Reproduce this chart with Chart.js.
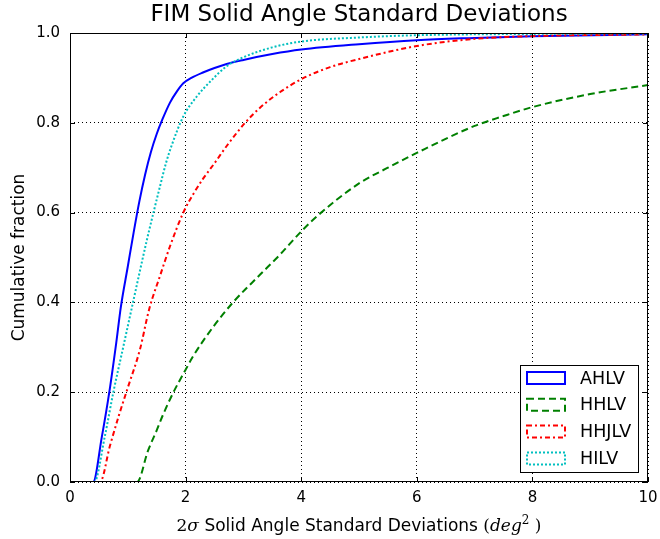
<!DOCTYPE html>
<html>
<head>
<meta charset="utf-8">
<script src="https://cdn.jsdelivr.net/npm/chart.js@4/dist/chart.umd.min.js"></script>
<style>
  body { margin: 0; background: #fff; }
  canvas { display: block; }
</style>
</head>
<body>
<canvas id="cdf" width="660" height="539"></canvas>
<script>
    // cumulative curves, x = 2 sigma solid angle std dev (deg^2)
    const ahlvX = [0, 0.40, 0.55, 0.68, 0.80, 0.88, 1.0, 1.1, 1.2, 1.3, 1.4, 1.5, 1.6, 1.73, 1.85, 1.96, 2.1, 2.3, 2.5, 2.71, 3.0, 3.5, 4.0, 5.0, 6.0, 7.0, 8.0, 10.0];
    const ahlvY = [0, 0, 0.10, 0.20, 0.31, 0.39, 0.48, 0.555, 0.625, 0.685, 0.735, 0.775, 0.808, 0.845, 0.87, 0.888, 0.90, 0.912, 0.922, 0.931, 0.940, 0.953, 0.963, 0.975, 0.984, 0.989, 0.993, 0.997];

    const hhlvX = [0, 1.16, 1.35, 1.50, 1.61, 1.79, 2.0, 2.13, 2.48, 2.82, 3.29, 3.63, 4.0, 4.3, 5.0, 5.5, 6.0, 7.0, 7.5, 8.0, 9.0, 10.0];
    const hhlvY = [0, 0, 0.07, 0.115, 0.15, 0.20, 0.25, 0.28, 0.346, 0.40, 0.462, 0.506, 0.558, 0.595, 0.665, 0.70, 0.733, 0.793, 0.815, 0.835, 0.864, 0.884];

    const hhjlvX = [0, 0.52, 0.69, 0.85, 1.0, 1.21, 1.37, 1.56, 1.73, 1.96, 2.15, 2.3, 2.5, 2.72, 3.03, 3.3, 3.63, 4.0, 4.5, 5.0, 6.0, 7.0, 8.0, 10.0];
    const hhjlvY = [0, 0, 0.08, 0.15, 0.21, 0.295, 0.385, 0.46, 0.525, 0.60, 0.645, 0.675, 0.71, 0.75, 0.80, 0.835, 0.868, 0.897, 0.924, 0.942, 0.971, 0.987, 0.993, 0.997];

    const hilvX = [0, 0.42, 0.60, 0.75, 0.92, 1.09, 1.33, 1.56, 1.66, 1.76, 1.96, 2.19, 2.45, 2.71, 3.0, 3.5, 4.0, 5.0, 6.0, 8.0, 10.0];
    const hilvY = [0, 0, 0.10, 0.20, 0.30, 0.40, 0.539, 0.66, 0.71, 0.75, 0.814, 0.858, 0.895, 0.926, 0.946, 0.968, 0.981, 0.990, 0.995, 0.998, 0.999];

    const seriesNames = ['AHLV', 'HHLV', 'HHJLV', 'HILV'];
    const xTicks = [0, 2, 4, 6, 8, 10];
    const yTicks = [0, 0.2, 0.4, 0.6, 0.8, 1.0];

    const pts = (xs, ys) => xs.map((x, i) => ({ x: x, y: ys[i] }));

    // matplotlib-ish styles
    const styles = [
        { color: '#0000ff', dash: [] },
        { color: '#008000', dash: [7, 4] },
        { color: '#ff0000', dash: [5, 3, 2, 3] },
        { color: '#00bfbf', dash: [2, 2] }
    ];

    const allData = [pts(ahlvX, ahlvY), pts(hhlvX, hhlvY), pts(hhjlvX, hhjlvY), pts(hilvX, hilvY)];

    const datasets = allData.map((d, i) => ({
        label: seriesNames[i],
        data: d,
        borderColor: styles[i].color,
        backgroundColor: '#ffffff',
        borderDash: styles[i].dash,
        borderWidth: 2,
        pointRadius: 0,
        cubicInterpolationMode: 'monotone',
        fill: false,
        order: 3 - i
    }));

    // frame, inward ticks, titles and legend
    const decorations = {
        id: 'decorations',
        afterDraw(chart) {
            const ctx = chart.ctx;
            const a = chart.chartArea;
            const xs = chart.scales.x, ys = chart.scales.y;
            ctx.save();
            ctx.strokeStyle = '#000';
            ctx.lineWidth = 1;
            ctx.setLineDash([]);
            ctx.strokeRect(a.left + 0.5, a.top + 0.5, a.right - a.left - 1, a.bottom - a.top - 1);

            ctx.beginPath();
            xTicks.forEach(t => {
                const px = Math.round(xs.getPixelForValue(t)) + 0.5;
                ctx.moveTo(px, a.bottom); ctx.lineTo(px, a.bottom - 5);
                ctx.moveTo(px, a.top); ctx.lineTo(px, a.top + 5);
            });
            yTicks.forEach(t => {
                const py = Math.round(ys.getPixelForValue(t)) + 0.5;
                ctx.moveTo(a.left, py); ctx.lineTo(a.left + 5, py);
                ctx.moveTo(a.right, py); ctx.lineTo(a.right - 5, py);
            });
            ctx.stroke();

            const cx = (a.left + a.right) / 2;
            ctx.fillStyle = '#000';
            ctx.textAlign = 'center';
            ctx.textBaseline = 'alphabetic';
            ctx.font = '23px "DejaVu Sans"';
            ctx.fillText('FIM Solid Angle Standard Deviations', cx, 21);

            // y axis title
            ctx.save();
            ctx.translate(24, (a.top + a.bottom) / 2);
            ctx.rotate(-Math.PI / 2);
            ctx.font = '17px "DejaVu Sans"';
            ctx.fillText('Cumulative fraction', 0, 0);
            ctx.restore();

            // x axis title with math parts in serif
            const parts = [
                { t: '2', f: '17px "DejaVu Serif"' },
                { t: 'σ', f: 'italic 17px "DejaVu Serif"' },
                { t: ' Solid Angle Standard Deviations ', f: '17px "DejaVu Sans"' },
                { t: '(', f: '17px "DejaVu Serif"' },
                { t: 'deg', f: 'italic 17px "DejaVu Serif"' },
                { t: '2', f: '12px "DejaVu Serif"', sup: true },
                { t: ' )', f: '17px "DejaVu Serif"' }
            ];
            let total = 0;
            parts.forEach(p => { ctx.font = p.f; p.w = ctx.measureText(p.t).width; total += p.w; });
            let x0 = cx - total / 2;
            ctx.textAlign = 'left';
            parts.forEach(p => {
                ctx.font = p.f;
                ctx.fillText(p.t, x0, p.sup ? 524 : 531);
                x0 += p.w;
            });

            // legend box, lower right
            const lx = 520, ly = 365, lw = 118, lh = 107;
            ctx.fillStyle = '#fff';
            ctx.fillRect(lx, ly, lw, lh);
            ctx.strokeStyle = '#000';
            ctx.lineWidth = 1;
            ctx.strokeRect(lx + 0.5, ly + 0.5, lw, lh);
            ctx.font = '17.5px "DejaVu Sans"';
            ctx.textBaseline = 'middle';
            seriesNames.forEach((name, i) => {
                const ry = 378 + i * 26.8;
                ctx.strokeStyle = styles[i].color;
                ctx.lineWidth = 2;
                ctx.setLineDash(styles[i].dash);
                ctx.strokeRect(527, ry - 6, 38, 12);
                ctx.setLineDash([]);
                ctx.fillStyle = '#000';
                ctx.fillText(name, 580, ry + 1);
            });
            ctx.restore();
        }
    };

    new Chart(document.getElementById('cdf'), {
        type: 'line',
        data: { datasets: datasets },
        options: {
            responsive: false,
            animation: false,
            layout: { padding: { top: 33, right: 12, left: 0, bottom: 0 } },
            plugins: {
                legend: { display: false },
                tooltip: { enabled: false }
            },
            scales: {
                x: {
                    type: 'linear',
                    min: 0,
                    max: 10,
                    afterBuildTicks: s => { s.ticks = xTicks.map(v => ({ value: v })); },
                    afterFit: s => { s.height = 57; s.paddingLeft = 0; s.paddingRight = 0; },
                    ticks: {
                        color: '#000',
                        font: { family: 'DejaVu Sans', size: 15 },
                        padding: 7,
                        maxRotation: 0,
                        callback: v => String(v)
                    },
                    grid: { color: '#000', lineWidth: 1, drawTicks: false },
                    border: { display: false, dash: [1, 3] }
                },
                y: {
                    min: 0,
                    max: 1,
                    afterBuildTicks: s => { s.ticks = yTicks.map(v => ({ value: v })); },
                    afterFit: s => { s.width = 70; s.paddingTop = 0; s.paddingBottom = 0; },
                    ticks: {
                        color: '#000',
                        font: { family: 'DejaVu Sans', size: 15 },
                        padding: 10,
                        callback: v => v.toFixed(1)
                    },
                    grid: { color: '#000', lineWidth: 1, drawTicks: false },
                    border: { display: false, dash: [1, 3] }
                }
            }
        },
        plugins: [decorations]
    });
</script>
</body>
</html>
